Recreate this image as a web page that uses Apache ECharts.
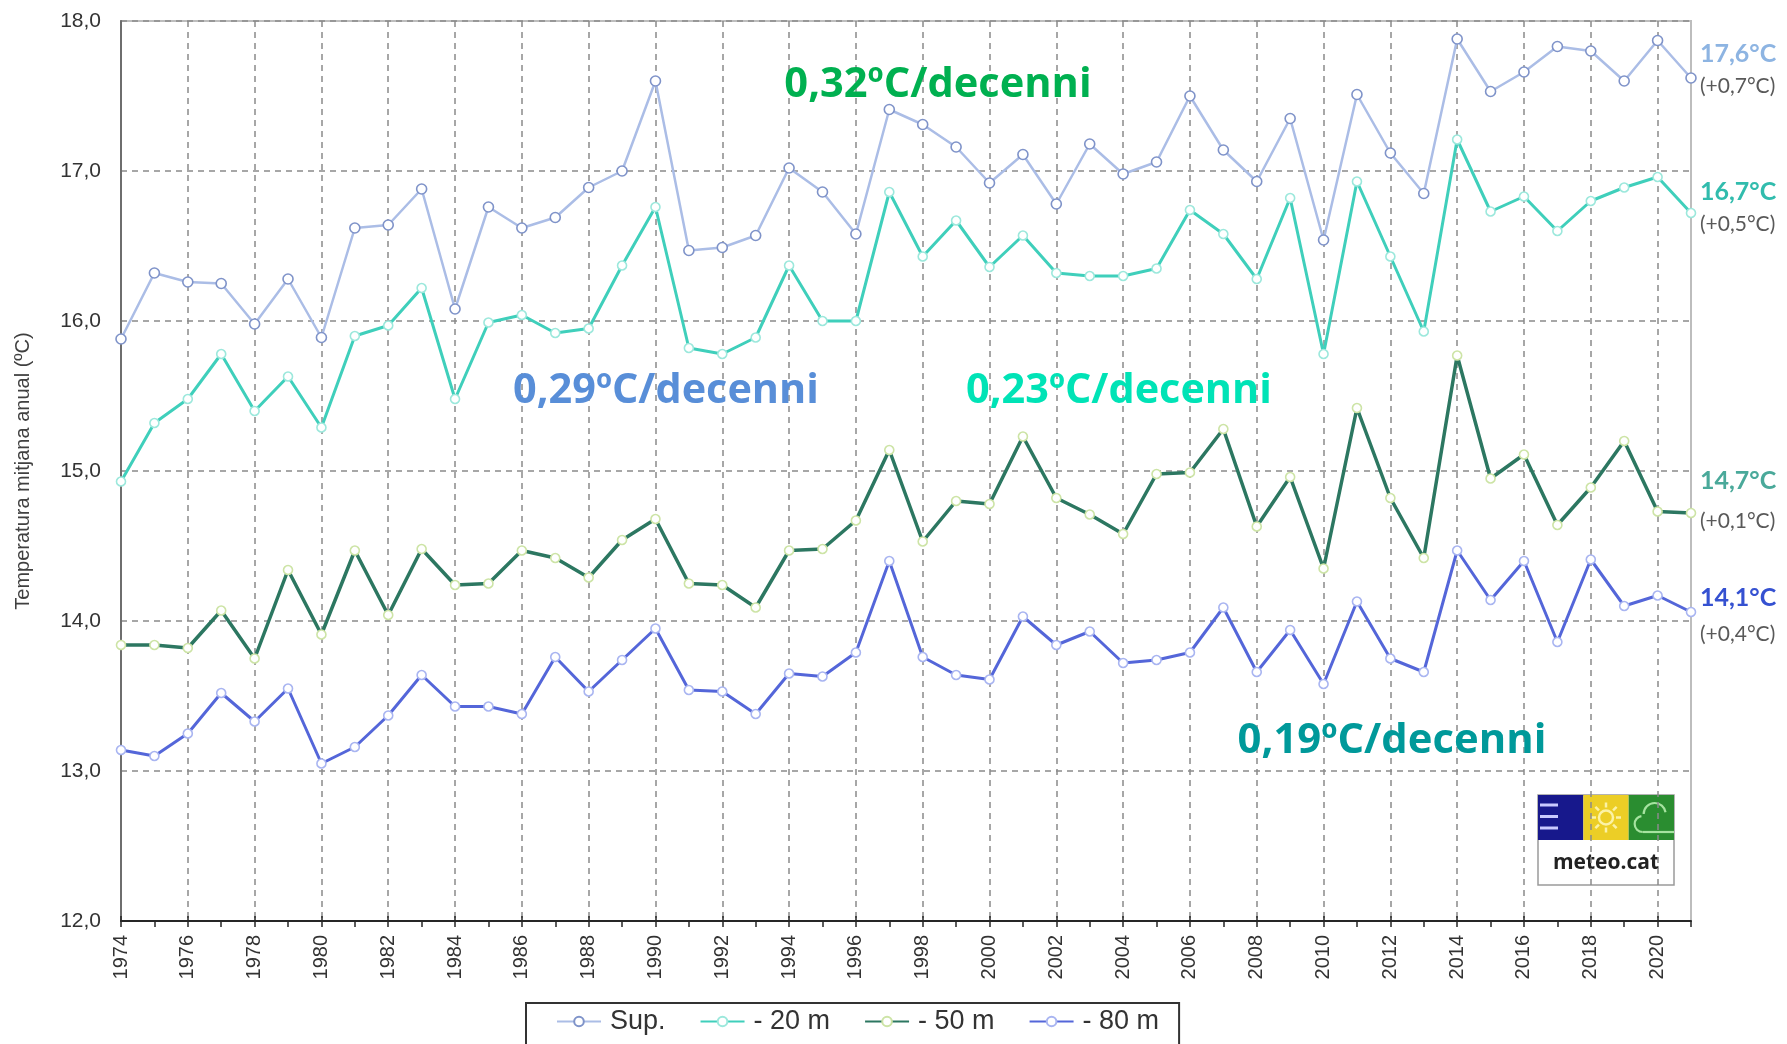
<!DOCTYPE html>
<html>
<head>
<meta charset="utf-8">
<title>Temperatura mitjana anual del mar</title>
<script src="https://cdn.jsdelivr.net/npm/echarts@6/dist/echarts.min.js"></script>
<style>
  html, body { margin: 0; padding: 0; background: #ffffff; }
  #chart { width: 1787px; height: 1044px; }
</style>
</head>
<body>
<div id="chart"></div>
<script>
// Anys de la sèrie (eix X)
const years = ['1974','1975','1976','1977','1978','1979','1980','1981','1982','1983',
  '1984','1985','1986','1987','1988','1989','1990','1991','1992','1993',
  '1994','1995','1996','1997','1998','1999','2000','2001','2002','2003',
  '2004','2005','2006','2007','2008','2009','2010','2011','2012','2013',
  '2014','2015','2016','2017','2018','2019','2020','2021'];

// Temperatura mitjana anual (ºC) per profunditat
const supValues = [15.88,16.32,16.26,16.25,15.98,16.28,15.89,16.62,16.64,16.88,
  16.08,16.76,16.62,16.69,16.89,17.00,17.60,16.47,16.49,16.57,
  17.02,16.86,16.58,17.41,17.31,17.16,16.92,17.11,16.78,17.18,
  16.98,17.06,17.50,17.14,16.93,17.35,16.54,17.51,17.12,16.85,
  17.88,17.53,17.66,17.83,17.80,17.60,17.87,17.62];
const m20Values = [14.93,15.32,15.48,15.78,15.40,15.63,15.29,15.90,15.97,16.22,
  15.48,15.99,16.04,15.92,15.95,16.37,16.76,15.82,15.78,15.89,
  16.37,16.00,16.00,16.86,16.43,16.67,16.36,16.57,16.32,16.30,
  16.30,16.35,16.74,16.58,16.28,16.82,15.78,16.93,16.43,15.93,
  17.21,16.73,16.83,16.60,16.80,16.89,16.96,16.72];
const m50Values = [13.84,13.84,13.82,14.07,13.75,14.34,13.91,14.47,14.04,14.48,
  14.24,14.25,14.47,14.42,14.29,14.54,14.68,14.25,14.24,14.09,
  14.47,14.48,14.67,15.14,14.53,14.80,14.78,15.23,14.82,14.71,
  14.58,14.98,14.99,15.28,14.63,14.96,14.35,15.42,14.82,14.42,
  15.77,14.95,15.11,14.64,14.89,15.20,14.73,14.72];
const m80Values = [13.14,13.10,13.25,13.52,13.33,13.55,13.05,13.16,13.37,13.64,
  13.43,13.43,13.38,13.76,13.53,13.74,13.95,13.54,13.53,13.38,
  13.65,13.63,13.79,14.40,13.76,13.64,13.61,14.03,13.84,13.93,
  13.72,13.74,13.79,14.09,13.66,13.94,13.58,14.13,13.75,13.66,
  14.47,14.14,14.40,13.86,14.41,14.10,14.17,14.06];

// Noms de la llegenda
const seriesNames = ['Sup.', '- 20 m', '- 50 m', '- 80 m'];
// Anomalia del darrer any indicada al costat del valor final
const lastYearAnomaly = ['+0,7', '+0,5', '+0,1', '+0,4'];
// Tendències per decenni
const trendTexts = ['0,32ºC/decenni', '0,29ºC/decenni', '0,23ºC/decenni', '0,19ºC/decenni'];
// Marques de l'eix Y
const yMin = 12, yMax = 18, yStep = 1;

const NUM_FONT = "'Liberation Sans', Arial, sans-serif";
const CAL_FONT = "Lato, 'Open Sans', sans-serif";
const TREND_FONT = "'Open Sans'";

function comma(v, d) { return v.toFixed(d).replace('.', ','); }

// Mida de lletra que fa que un text ocupi una amplada donada
function fitFontSize(text, weight, family, width) {
  const ctx = document.createElement('canvas').getContext('2d');
  ctx.font = weight + ' 100px ' + family;
  return 100 * width / ctx.measureText(text).width;
}

function endLabel(idx, valueColor, gap, shift) {
  return {
    show: true,
    distance: 9,
    offset: [0, shift],
    formatter: function (p) {
      const v = Array.isArray(p.value) ? p.value[p.value.length - 1] : p.value;
      return '{v|' + comma(v, 1) + '°C}\n{d|(' + lastYearAnomaly[idx] + '°C)}';
    },
    rich: {
      v: { fontFamily: CAL_FONT, fontWeight: 'bold', fontSize: 25, color: valueColor, lineHeight: gap },
      d: { fontFamily: CAL_FONT, fontSize: 21, color: '#595959', lineHeight: gap }
    }
  };
}

function lineSeries(name, data, lineColor, lineWidth, markerStroke, symbolSize, label) {
  return {
    name: name,
    type: 'line',
    xAxisIndex: 0,
    data: data,
    symbol: 'circle',
    symbolSize: symbolSize,
    showAllSymbol: true,
    lineStyle: { color: lineColor, width: lineWidth },
    itemStyle: { color: '#ffffff', borderColor: markerStroke, borderWidth: 1.6 },
    emphasis: { disabled: true },
    endLabel: label
  };
}

// Textos de tendència, amplada ajustada
function trendText(text, color, cx, baseline, width) {
  const fs = fitFontSize(text, 'bold', TREND_FONT, width);
  return {
    type: 'text',
    x: cx,
    y: baseline - 0.36 * fs,
    z: 50,
    style: {
      text: text,
      fill: color,
      font: 'bold ' + fs.toFixed(1) + 'px ' + TREND_FONT,
      textAlign: 'center', align: 'center',
      textVerticalAlign: 'middle', verticalAlign: 'middle'
    }
  };
}

// Logotip meteo.cat
function logo() {
  const x0 = 1538, y0 = 795, w = 136, h = 90, band = 45, cw = w / 3;
  const children = [
    { type: 'rect', shape: { x: x0, y: y0, width: w, height: h }, style: { fill: '#ffffff', stroke: '#9a9a9a', lineWidth: 1.5 } },
    { type: 'rect', shape: { x: x0, y: y0, width: cw, height: band }, style: { fill: '#17188c' } },
    { type: 'rect', shape: { x: x0 + cw, y: y0, width: cw, height: band }, style: { fill: '#ecce26' } },
    { type: 'rect', shape: { x: x0 + 2 * cw, y: y0, width: cw, height: band }, style: { fill: '#2a8d30' } }
  ];
  [10, 21.5, 33].forEach(function (dy) {
    children.push({ type: 'line', shape: { x1: x0 + 2, y1: y0 + dy, x2: x0 + 20, y2: y0 + dy }, style: { stroke: '#c9c9ff', lineWidth: 3 } });
  });
  const sx = x0 + cw * 1.5, sy = y0 + band / 2;
  children.push({ type: 'circle', shape: { cx: sx, cy: sy, r: 7 }, style: { fill: 'none', stroke: '#fbf2a6', lineWidth: 2.5 } });
  for (let k = 0; k < 8; k++) {
    const a = k * Math.PI / 4;
    children.push({ type: 'line', shape: { x1: sx + 10 * Math.cos(a), y1: sy + 10 * Math.sin(a), x2: sx + 15 * Math.cos(a), y2: sy + 15 * Math.sin(a) }, style: { stroke: '#fbf2a6', lineWidth: 2.5 } });
  }
  const gx = x0 + 2 * cw;
  children.push({ type: 'arc', shape: { cx: gx + 14, cy: y0 + 29, r: 8, startAngle: Math.PI * 0.5, endAngle: Math.PI * 1.45 }, style: { stroke: '#a6e3a0', lineWidth: 2.2, fill: 'none' } });
  children.push({ type: 'arc', shape: { cx: gx + 26, cy: y0 + 19, r: 11, startAngle: Math.PI * 1.0, endAngle: Math.PI * 1.95 }, style: { stroke: '#a6e3a0', lineWidth: 2.2, fill: 'none' } });
  children.push({ type: 'line', shape: { x1: gx + 14, y1: y0 + 37, x2: gx + cw, y2: y0 + 37 }, style: { stroke: '#a6e3a0', lineWidth: 2.2 } });
  children.push({
    type: 'text', x: x0 + w / 2, y: y0 + 68,
    style: { text: 'meteo.cat', fill: '#222222', font: 'bold 21px "Open Sans", Lato, sans-serif',
      textAlign: 'center', align: 'center', textVerticalAlign: 'middle', verticalAlign: 'middle' }
  });
  return { type: 'group', z: 40, children: children };
}

const chart = echarts.init(document.getElementById('chart'), null, { renderer: 'canvas' });

chart.setOption({
  animation: false,
  backgroundColor: '#ffffff',
  grid: {
    left: 121, right: 96, top: 21, bottom: 123,
    containLabel: false,
    outerBoundsMode: 'none',
    show: true,
    backgroundColor: 'transparent',
    borderColor: '#bdbdbd',
    borderWidth: 2
  },
  legend: {
    data: seriesNames,
    left: 526, top: 1003,
    orient: 'horizontal',
    padding: [5, 20, 22, 30],
    itemGap: 34,
    itemWidth: 44,
    itemHeight: 12,
    borderColor: '#333333',
    borderWidth: 2,
    backgroundColor: '#ffffff',
    selectedMode: false,
    textStyle: { fontFamily: NUM_FONT, fontSize: 27, color: '#333333', padding: [0, 0, 0, 4] }
  },
  xAxis: [
    {
      type: 'category',
      data: years,
      boundaryGap: false,
      position: 'bottom',
      axisLine: { show: true, lineStyle: { color: '#262626', width: 2 } },
      axisTick: { show: true, interval: 0, length: 6, lineStyle: { color: '#262626', width: 1.5 } },
      axisLabel: { interval: 1, rotate: 90, margin: 14, fontFamily: NUM_FONT, fontSize: 20, color: '#333333' },
      splitLine: { show: true, interval: 1, lineStyle: { color: '#8a8a8a', width: 1.5, type: [6, 5] } }
    },
    {
      // marques interiors als anys etiquetats
      type: 'category',
      data: years,
      boundaryGap: false,
      position: 'bottom',
      offset: 0,
      axisLine: { show: false },
      axisTick: { show: true, inside: true, interval: 1, length: 5, lineStyle: { color: '#262626', width: 1.5 } },
      axisLabel: { show: false },
      splitLine: { show: false }
    }
  ],
  yAxis: {
    type: 'value',
    min: yMin, max: yMax, interval: yStep,
    name: 'Temperatura mitjana anual (ºC)',
    nameLocation: 'middle',
    nameGap: 88,
    nameTextStyle: { fontFamily: NUM_FONT, fontSize: 20, color: '#404040' },
    axisLine: { show: true, lineStyle: { color: '#6e6e6e', width: 2 } },
    axisTick: { show: false },
    axisLabel: { margin: 20, fontFamily: NUM_FONT, fontSize: 21, color: '#333333', formatter: function (v) { return comma(v, 1); } },
    splitLine: { show: true, lineStyle: { color: '#8a8a8a', width: 1.5, type: [6, 5] } }
  },
  series: [
    lineSeries(seriesNames[0], supValues, '#abbde6', 2.5, '#7f93c9', 10, endLabel(0, '#8db4e2', 33, -8)),
    lineSeries(seriesNames[1], m20Values, '#3fcfbb', 3, '#9ce8dc', 9, endLabel(1, '#31bcad', 32, -5)),
    lineSeries(seriesNames[2], m50Values, '#2c7761', 3.5, '#cde4a6', 9, endLabel(2, '#4aa99a', 41, -12)),
    lineSeries(seriesNames[3], m80Values, '#5466d9', 3, '#a9b5f1', 9, endLabel(3, '#3551d1', 36, 4))
  ],
  graphic: [
    trendText(trendTexts[0], '#00b050', 938, 100, 307),
    trendText(trendTexts[1], '#588ed8', 666, 406, 306),
    trendText(trendTexts[2], '#00e3b6', 1119, 406, 306),
    trendText(trendTexts[3], '#00999a', 1392, 756, 309),
    logo()
  ]
});
</script>
</body>
</html>
